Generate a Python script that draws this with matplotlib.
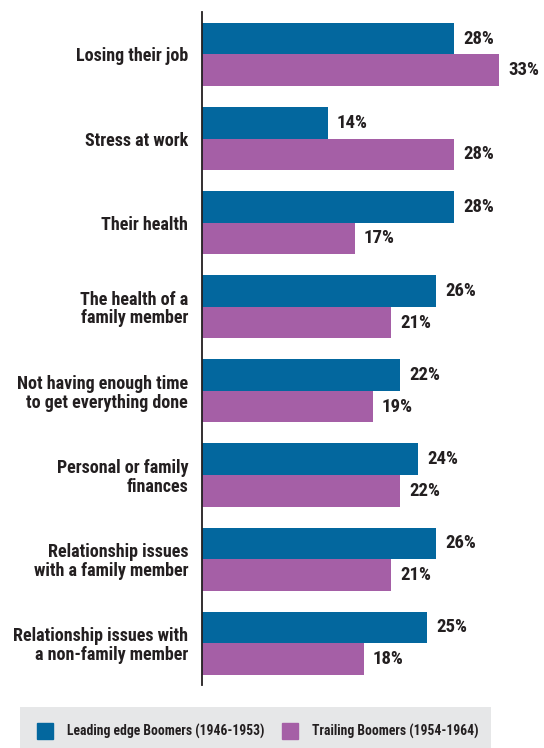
import matplotlib
matplotlib.use('Agg')
import matplotlib.pyplot as plt
from matplotlib import font_manager
from matplotlib.patches import Rectangle
import numpy as np

# ── Data ─────────────────────────────────────────────
categories = [
    'Losing their job',
    'Stress at work',
    'Their health',
    'The health of a\nfamily member',
    'Not having enough time\nto get everything done',
    'Personal or family\nfinances',
    'Relationship issues\nwith a family member',
    'Relationship issues with\na non-family member',
]
leading_edge = [28, 14, 28, 26, 22, 24, 26, 25]
trailing = [33, 28, 17, 21, 19, 22, 21, 18]
series_names = ['Leading edge Boomers (1946-1953)', 'Trailing Boomers (1954-1964)']

BLUE = '#03679e'
PURPLE = '#a55fa6'
TEXT = '#231f20'
LEGEND_BG = '#e6e7e8'

# pick a narrow bold face if one is installed
available = {f.name for f in font_manager.fontManager.ttflist}
FONT = 'Liberation Sans'
for cand in ['Liberation Sans Narrow', 'DejaVu Sans Condensed', 'Roboto Condensed']:
    if cand in available:
        FONT = cand
        break
plt.rcParams['font.family'] = [FONT, 'DejaVu Sans']

W, H = 544, 748
fig = plt.figure(figsize=(W / 100, H / 100), dpi=100)

# ── Bars ─────────────────────────────────────────────
ax_top, ax_bot, ax_left = 12, 685, 202
ax = fig.add_axes([ax_left / W, 1 - ax_bot / H, (W - ax_left) / W, (ax_bot - ax_top) / H])

n = len(categories)
y = np.arange(n)
h = 0.375
ax.barh(y - h / 2, leading_edge, height=h, color=BLUE, label=series_names[0])
ax.barh(y + h / 2, trailing, height=h, color=PURPLE, label=series_names[1])

for yi, v in zip(y, leading_edge):
    ax.text(v + 1.0, yi - h / 2, f'{v}%', va='center', ha='left',
            fontsize=13.5, fontweight='bold', color=TEXT)
for yi, v in zip(y, trailing):
    ax.text(v + 1.0, yi + h / 2, f'{v}%', va='center', ha='left',
            fontsize=13.5, fontweight='bold', color=TEXT)

ax.set_xlim(0, (W - ax_left) / 9.0)
ax.set_ylim(-0.505 + (ax_bot - ax_top) / 84.1, -0.505)
ax.set_yticks(y)
ax.set_yticklabels(categories, fontsize=13.0, fontweight='bold', color=TEXT, linespacing=1.05)
ax.tick_params(axis='y', length=0, pad=10)
ax.set_xticks([])
for side in ['top', 'right', 'bottom']:
    ax.spines[side].set_visible(False)
ax.spines['left'].set_color('#231f20')
ax.spines['left'].set_linewidth(1.3)
ax.patch.set_alpha(0)

# ── Legend box ───────────────────────────────────────
bx0, bx1, by0, by1 = 20, 491, 707, 748
lg = fig.add_axes([bx0 / W, 1 - by1 / H, (bx1 - bx0) / W, (by1 - by0) / H])
lg.set_facecolor(LEGEND_BG)
lg.set_xlim(0, bx1 - bx0)
lg.set_ylim(by1 - by0, 0)
lg.axis('off')
lg.add_patch(Rectangle((0, 0), bx1 - bx0, by1 - by0, color=LEGEND_BG, zorder=0))
for x0, col, name in [(17, BLUE, series_names[0]), (261.5, PURPLE, series_names[1])]:
    lg.add_patch(Rectangle((x0, 16), 16, 16, color=col))
    lg.text(x0 + 30, 24, name, va='center', ha='left', fontsize=9.8,
            fontweight='bold', color=TEXT)

plt.savefig('out.png', dpi=100)
